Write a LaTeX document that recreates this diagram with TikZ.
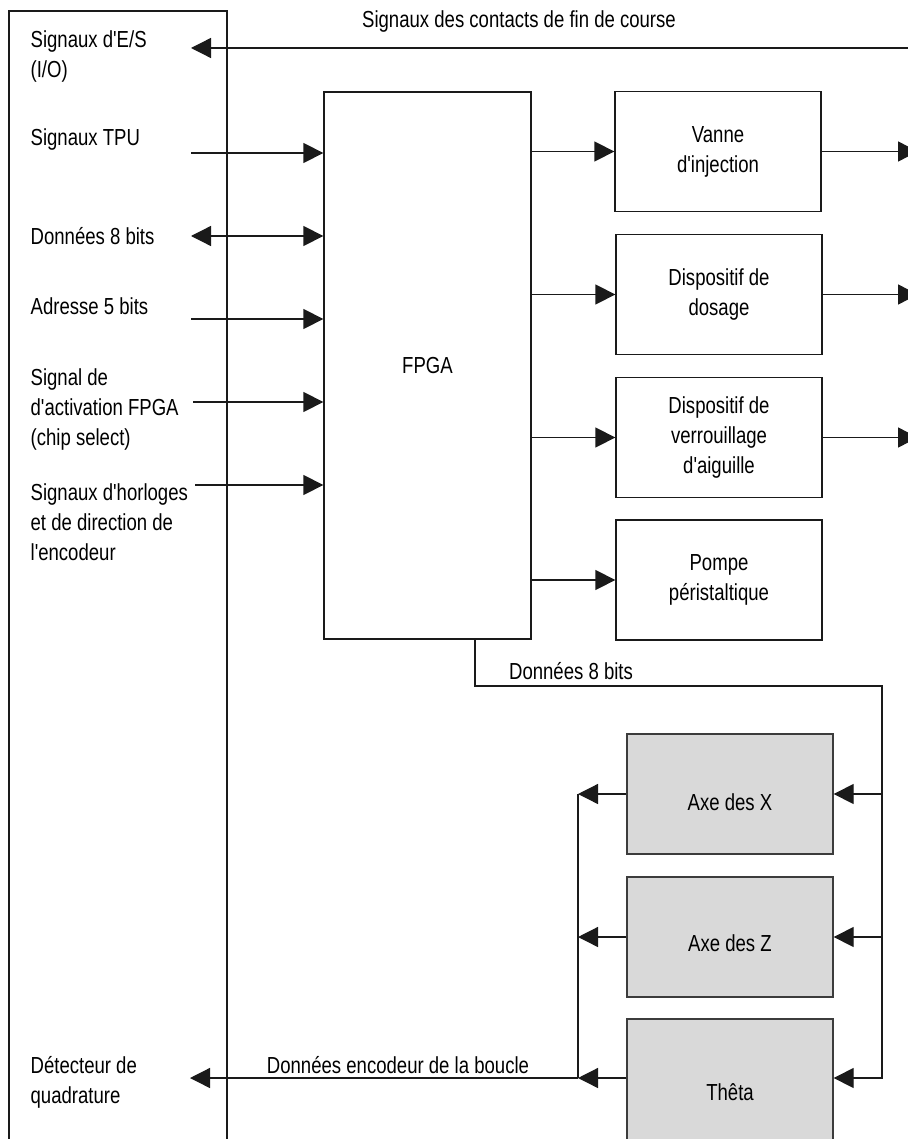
\documentclass[tikz,border=0pt]{standalone}
\usepackage{fontspec}
\setmainfont{Liberation Sans}[FakeStretch=0.80, Ligatures=TeXOff]
\usetikzlibrary{arrows.meta, positioning, calc}
\definecolor{cline}{HTML}{1A1A1A}
\definecolor{cgreyline}{HTML}{3C3C3C}
\definecolor{cfill}{HTML}{D9D9D9}
\tikzset{
  every picture/.style={font=\fontsize{11.6pt}{15pt}\selectfont, line width=0.65pt, x=0.5pt, y=-0.5pt},
  box/.style={draw=cline, fill=white, align=center, inner sep=0pt, minimum width=103pt, minimum height=60pt},
  axbox/.style={box, draw=cgreyline, fill=cfill},
  arrow/.style={-{Triangle[length=10pt, width=10pt]}, draw=cline},
  wire/.style={draw=cline},
  lbl/.style={anchor=west, align=left, inner sep=0pt},
  note/.style={inner sep=0pt},
}
\begin{document}
\begin{tikzpicture}
  \clip (0,0) rectangle (908,1139);
  % microcontroller side (open at the bottom)
  \draw[wire] (9,1139) -- (9,11) -- (227,11) -- (227,1139);
  \node[lbl] (io) at (30,56) {Signaux d'E/S\\(I/O)};
  \node[lbl] (tpu) at (30,140) {Signaux TPU};
  \node[lbl] (data) at (30,236) {Données 8 bits};
  \node[lbl] (addr) at (30,306) {Adresse 5 bits};
  \node[lbl] (cs) at (30,409) {Signal de\\d'activation FPGA\\(chip select)};
  \node[lbl] (clk) at (30,522) {Signaux d'horloges\\et de direction de\\l'encodeur};
  \node[lbl] (quad) at (30,1082) {Détecteur de\\quadrature};
  % FPGA and the actuators
  \node[box, minimum width=103.5pt, minimum height=273.5pt] (fpga) at (427.5,365.5) {FPGA};
  \node[box] (vanne) at (718,151.5) {Vanne\\d'injection};
  \node[box] (dosage) at (719,294.5) {Dispositif de\\dosage};
  \node[box] (verrou) at (719,437.5) {Dispositif de\\verrouillage\\d'aiguille};
  \node[box] (pompe) at (719,580) {Pompe\\péristaltique};
  % motion axes
  \node[axbox] (axex) at (730,794) {\raisebox{-8pt}[0pt][0pt]{Axe des X}};
  \node[axbox] (axez) at (730,937) {\raisebox{-7pt}[0pt][0pt]{Axe des Z}};
  \node[axbox, minimum height=73pt] (theta) at (730,1092) {Thêta};
  % free ends
  \coordinate (es) at (191,48);
  \coordinate (fc) at (908,48);
  \coordinate (inx) at (191,0);
  \coordinate (outx) at (918,0);
  \coordinate (b1) at (475,686);
  \coordinate (b2) at (882,686);
  \coordinate (ret) at (578,1078);
  \coordinate (det) at (190,1078);
  % inputs and outputs
  \node[note] (fclbl) at (519,22) {Signaux des contacts de fin de course};
  \draw[arrow] (fc) -- (es);
  \draw[arrow] (inx |- 0,153) -- (fpga.west |- 0,153);
  \draw[arrow, {Triangle[length=10pt, width=10pt]}-{Triangle[length=10pt, width=10pt]}] (inx |- 0,236) -- (fpga.west |- 0,236);
  \draw[arrow] (inx |- 0,319) -- (fpga.west |- 0,319);
  \draw[arrow] (193,402) -- (fpga.west |- 0,402);
  \draw[arrow] (195,485) -- (fpga.west |- 0,485);
  \foreach \b in {vanne, dosage, verrou, pompe}
    \draw[arrow] (fpga.east |- \b.west) -- (\b.west);
  \foreach \b in {vanne, dosage, verrou}
    \draw[arrow] (\b.east) -- (\b.east -| outx);
  % data bus to the axes
  \draw[wire] (fpga.south -| b1) -- (b1) -- (b2) -- (b2 |- axex.east);
  \node[note] (buslbl) at (571,671) {Données 8 bits};
  \draw[arrow] (b2 |- axex.east) -- (axex.east);
  \draw[arrow] (b2 |- axez.east) -- (axez.east);
  \draw[arrow] (b2 |- axex.east) -- (b2 |- ret) -- (theta.east |- ret);
  % encoder feedback
  \draw[arrow] (axex.west) -- (axex.west -| ret);
  \draw[arrow] (axez.west) -- (axez.west -| ret);
  \draw[arrow] (theta.west |- ret) -- (ret);
  \draw[wire] (ret |- axex.west) -- (ret);
  \draw[arrow] (ret) -- (det);
  \node[note] (enclbl) at (398,1065) {Données encodeur de la boucle};
\end{tikzpicture}
\end{document}
